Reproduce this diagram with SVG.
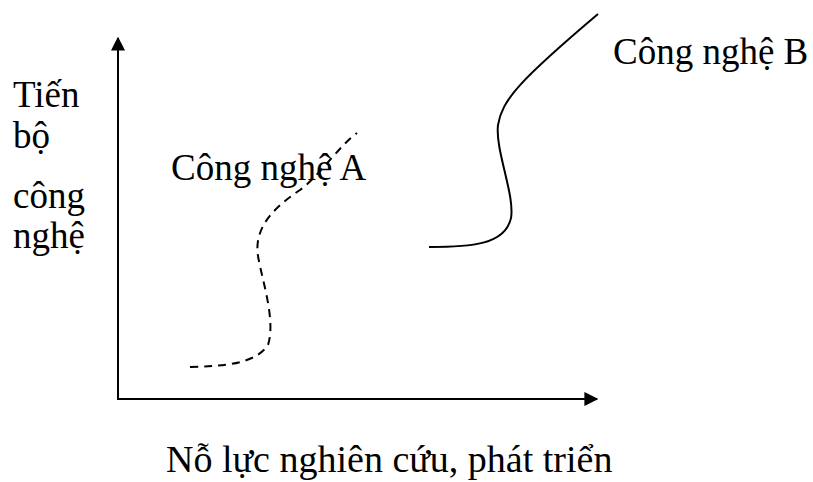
<svg xmlns="http://www.w3.org/2000/svg" width="813" height="482" viewBox="0 0 813 482">
  <defs>
    <marker id="arrow" viewBox="0 0 10 10" refX="9" refY="5" markerWidth="14" markerHeight="14" markerUnits="userSpaceOnUse" orient="auto">
      <path d="M0,0 L10,5 L0,10 Z" fill="#000"/>
    </marker>
    <style>
      text { font-family: "Liberation Serif", "Times New Roman", serif; fill: #000; }
      .label { font-size: 37px; }
      .title { font-size: 38px; }
      .axis { stroke: #000; stroke-width: 2; fill: none; }
      .curve { stroke: #000; stroke-width: 2; fill: none; }
      .dashed { stroke-dasharray: 8 6; }
    </style>
  </defs>

  <!-- axes -->
  <g id="connectors">
    <line class="axis" x1="118" y1="399" x2="118" y2="38" marker-end="url(#arrow)"/>
    <line class="axis" x1="117" y1="399" x2="597" y2="399" marker-end="url(#arrow)"/>
  </g>

  <!-- technology A: dashed S-curve -->
  <g id="tech-a">
    <path class="curve dashed" d="M190,367 C225,366 255,364 268,345 C276,320 262,280 258,256 C254,230 270,210 300,190 C320,175 340,145 357,133"/>
    <text class="label" x="171" y="180">Công nghệ A</text>
  </g>

  <!-- technology B: solid S-curve -->
  <g id="tech-b">
    <path class="curve" d="M429,247 C470,247 505,245 511,218 C515,195 495,150 498,125 C502,100 520,80 598,14"/>
    <text class="label" x="613" y="64">Công nghệ B</text>
  </g>

  <!-- axis titles -->
  <g id="y-title">
    <text class="label" x="13" y="107">Tiến</text>
    <text class="label" x="13" y="148">bộ</text>
    <text class="label" x="13" y="208">công</text>
    <text class="label" x="13" y="248">nghệ</text>
  </g>
  <g id="x-title">
    <text class="title" x="166" y="472">Nỗ lực nghiên cứu, phát triển</text>
  </g>
</svg>
